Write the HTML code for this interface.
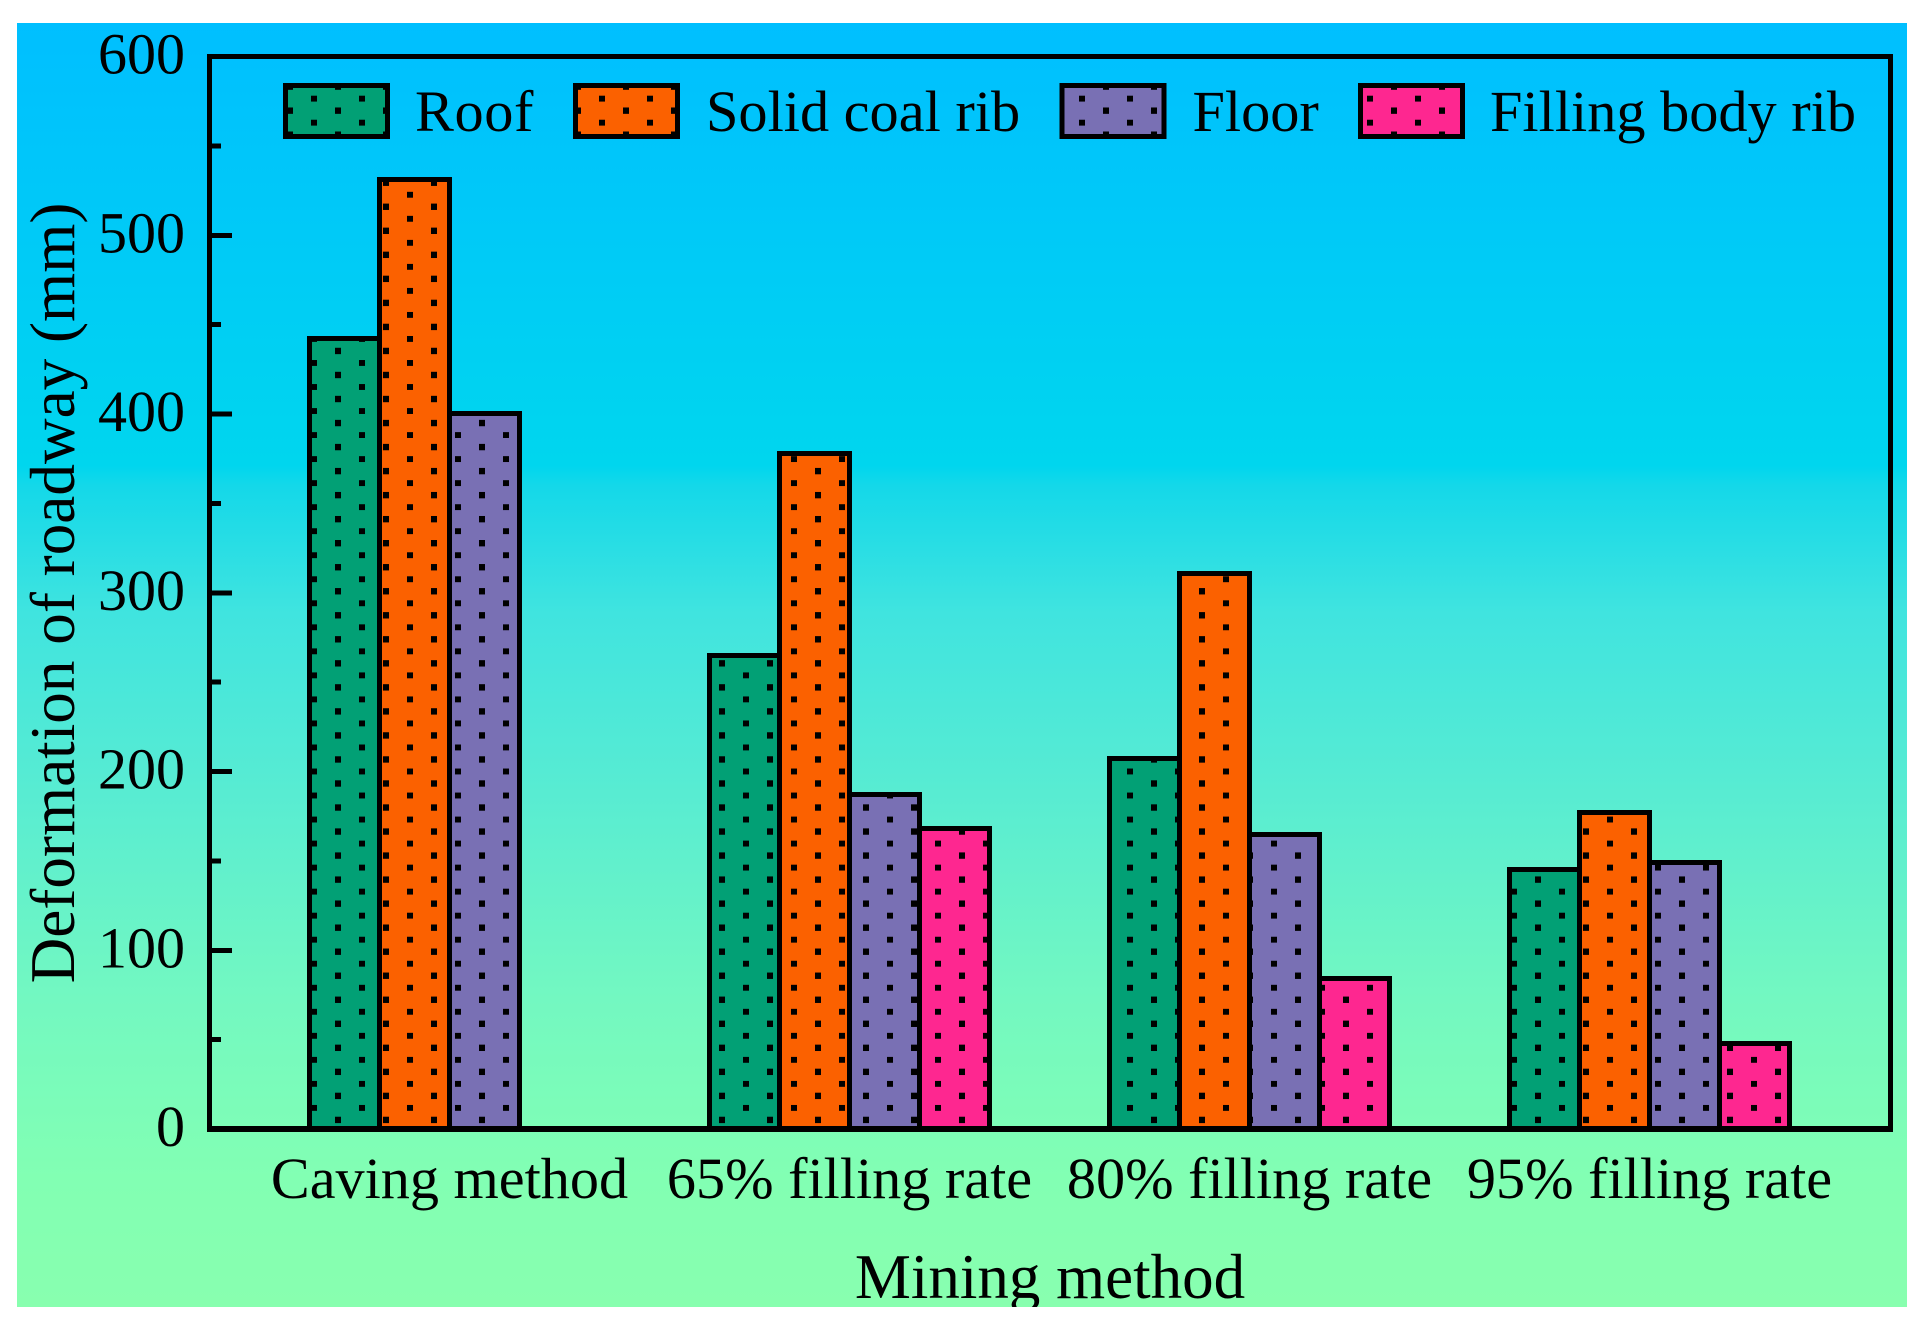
<!DOCTYPE html>
<html lang="en">
<head>
<meta charset="utf-8">
<title>Deformation of roadway by mining method</title>
<style>
  html, body { margin: 0; padding: 0; background: #ffffff; }
  svg { display: block; }
  text { font-family: "Liberation Serif", serif; fill: #000; }
</style>
</head>
<body>
<svg id="chart" xmlns="http://www.w3.org/2000/svg" width="1920" height="1326" viewBox="0 0 1920 1326">
  <defs>
    <linearGradient id="bg-gradient" gradientUnits="userSpaceOnUse" x1="0" y1="23" x2="0" y2="1307">
      <stop offset="0" stop-color="#00bfff"/>
      <stop offset="0.345" stop-color="#00d6ee"/>
      <stop offset="0.36" stop-color="#14d8e9"/>
      <stop offset="0.46" stop-color="#40e4df"/>
      <stop offset="0.6" stop-color="#58ecd2"/>
      <stop offset="0.76" stop-color="#73f8c1"/>
      <stop offset="0.9" stop-color="#82ffb3"/>
      <stop offset="1" stop-color="#88ffaf"/>
    </linearGradient>
    <pattern id="dots" patternUnits="userSpaceOnUse" x="23" y="-0.42" width="48" height="24.03" shape-rendering="crispEdges">
      <rect x="0" y="0" width="6" height="6" fill="#000"/>
      <rect x="24" y="12" width="6" height="6" fill="#000"/>
    </pattern>
    <clipPath id="bg-clip"><rect x="17" y="23" width="1890" height="1284"/></clipPath>
  </defs>

  <rect x="17" y="23" width="1890" height="1284" fill="url(#bg-gradient)"/>

  <g id="bars" shape-rendering="crispEdges"></g>
  <g id="ticks" shape-rendering="crispEdges"></g>

  <rect x="209.5" y="56.5" width="1681" height="1072.5" fill="none" stroke="#000" stroke-width="5" shape-rendering="crispEdges"/>
  <rect x="207" y="1126" width="1686" height="6" fill="#000" shape-rendering="crispEdges"/>

  <g id="y-labels" font-size="58" text-anchor="end"></g>
  <g id="x-labels" font-size="58.2" text-anchor="middle"></g>

  <text font-size="63.2" text-anchor="middle" transform="translate(74 593) rotate(-90)">Deformation of roadway (mm)</text>
  <g clip-path="url(#bg-clip)">
    <text font-size="63" text-anchor="middle" x="1050" y="1298">Mining method</text>
  </g>

  <g font-size="58.3">
    <g shape-rendering="crispEdges">
      <rect x="285.5" y="85.5" width="102" height="51" fill="#02a075"/>
      <rect x="285.5" y="85.5" width="102" height="51" fill="url(#dots)"/>
      <rect x="285.5" y="85.5" width="102" height="51" fill="none" stroke="#000" stroke-width="5"/>
    </g>
    <text x="415" y="131" letter-spacing="0.6">Roof</text>
    <g shape-rendering="crispEdges">
      <rect x="575.5" y="85.5" width="102" height="51" fill="#fb6100"/>
      <rect x="575.5" y="85.5" width="102" height="51" fill="url(#dots)"/>
      <rect x="575.5" y="85.5" width="102" height="51" fill="none" stroke="#000" stroke-width="5"/>
    </g>
    <text x="706" y="131">Solid coal rib</text>
    <g shape-rendering="crispEdges">
      <rect x="1062" y="85.5" width="102" height="51" fill="#7970b4"/>
      <rect x="1062" y="85.5" width="102" height="51" fill="url(#dots)"/>
      <rect x="1062" y="85.5" width="102" height="51" fill="none" stroke="#000" stroke-width="5"/>
    </g>
    <text x="1192.5" y="131">Floor</text>
    <g shape-rendering="crispEdges">
      <rect x="1360.5" y="85.5" width="102" height="51" fill="#fe2790"/>
      <rect x="1360.5" y="85.5" width="102" height="51" fill="url(#dots)"/>
      <rect x="1360.5" y="85.5" width="102" height="51" fill="none" stroke="#000" stroke-width="5"/>
    </g>
    <text x="1490" y="131">Filling body rib</text>
  </g>
</svg>

<script>
const categories = ["Caving method", "65% filling rate", "80% filling rate", "95% filling rate"];
const seriesNames = ["roof", "solid-coal-rib", "floor", "filling-body-rib"];
const roofValues = [442.5, 265, 207, 145];
const solidCoalRibValues = [531, 378, 311, 177];
const floorValues = [400.5, 187, 165, 149];
const fillingBodyRibValues = [null, 168, 84, 48];
const yTickLabels = [0, 100, 200, 300, 400, 500, 600];
const yMinorTicks = [50, 150, 250, 350, 450, 550];

const SVG_NS = "http://www.w3.org/2000/svg";
const seriesColors = ["#02a075", "#fb6100", "#7970b4", "#fe2790"];
const allSeries = [roofValues, solidCoalRibValues, floorValues, fillingBodyRibValues];

const Y_ZERO = 1129;
const Y_TOP = 56.5;
const Y_MAX = 600;
function yScale(v) { return Y_ZERO - v * (Y_ZERO - Y_TOP) / Y_MAX; }

const GROUP_START = 309.5;
const GROUP_STEP = 400;
const BAR_WIDTH = 70;
function xBar(catIndex, seriesIndex) { return GROUP_START + GROUP_STEP * catIndex + BAR_WIDTH * seriesIndex; }
function xCategory(catIndex) { return GROUP_START + GROUP_STEP * catIndex + BAR_WIDTH * 2; }

function makeRect(x, y, w, h) {
  const r = document.createElementNS(SVG_NS, "rect");
  r.setAttribute("x", x);
  r.setAttribute("y", y);
  r.setAttribute("width", w);
  r.setAttribute("height", h);
  return r;
}

const barsGroup = document.getElementById("bars");
allSeries.forEach(function (values, s) {
  values.forEach(function (v, c) {
    if (v === null) return;
    const x = xBar(c, s);
    const y = Math.round(yScale(v) - 0.5) + 0.5;
    const h = Y_ZERO - y;

    const g = document.createElementNS(SVG_NS, "g");
    
    

    const fill = makeRect(x, y, BAR_WIDTH, h);
    fill.setAttribute("fill", seriesColors[s]);
    
    
    g.appendChild(fill);

    const dots = makeRect(x, y, BAR_WIDTH, h);
    dots.setAttribute("fill", "url(#dots)");
    
    
    g.appendChild(dots);

    const border = makeRect(x, y, BAR_WIDTH, h);
    border.setAttribute("fill", "none");
    border.setAttribute("stroke", "#000");
    border.setAttribute("stroke-width", "5");
    
    
    g.appendChild(border);

    barsGroup.appendChild(g);
  });
});

const ticksGroup = document.getElementById("ticks");
yTickLabels.forEach(function (v) {
  const t = makeRect(212, yScale(v) - 2.5, 20, 5);
  t.setAttribute("fill", "#000");
  
  
  ticksGroup.appendChild(t);
});
yMinorTicks.forEach(function (v) {
  const t = makeRect(212, yScale(v) - 2.5, 9, 5);
  t.setAttribute("fill", "#000");
  
  
  ticksGroup.appendChild(t);
});

const yLabels = document.getElementById("y-labels");
yTickLabels.forEach(function (v) {
  const t = document.createElementNS(SVG_NS, "text");
  t.setAttribute("x", 185);
  t.setAttribute("y", yScale(v) + 17);
  t.textContent = String(v);
  
  
  yLabels.appendChild(t);
});

const xLabels = document.getElementById("x-labels");
categories.forEach(function (name, c) {
  const t = document.createElementNS(SVG_NS, "text");
  t.setAttribute("x", xCategory(c));
  t.setAttribute("y", 1198);
  t.textContent = name;
  
  
  xLabels.appendChild(t);
});
</script>
</body>
</html>
